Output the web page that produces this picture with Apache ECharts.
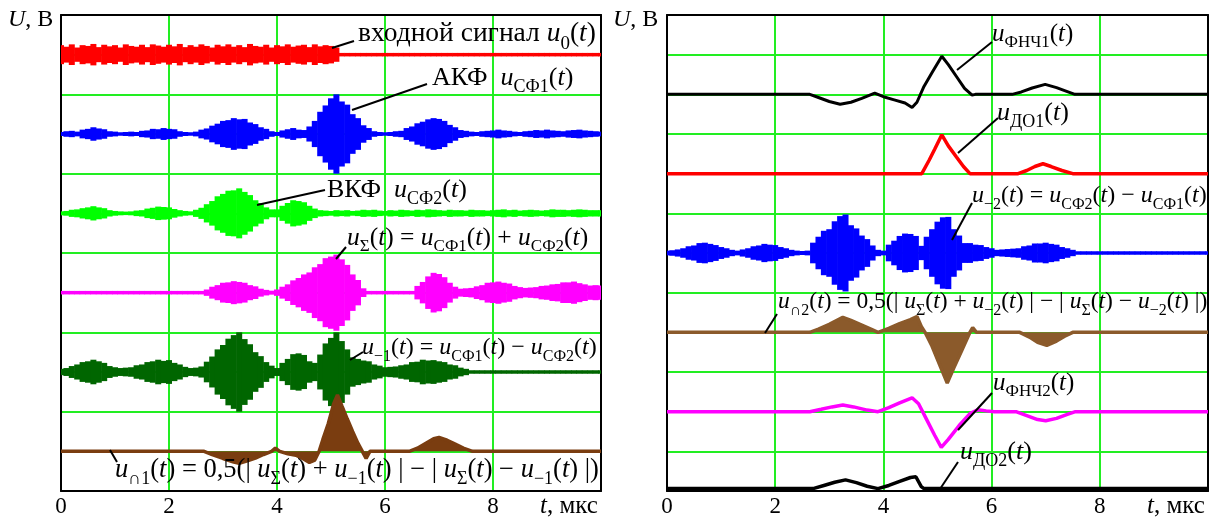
<!DOCTYPE html>
<html>
<head>
<meta charset="utf-8">
<script src="https://cdn.jsdelivr.net/npm/echarts@6.0.0/dist/echarts.min.js"></script>
<style>
  html, body { margin: 0; padding: 0; background: #fff; }
  #chart { width: 1220px; height: 521px; }
</style>
</head>
<body>
<div id="chart"></div>
<script>
// ---- time axis (µs) ----
const xTickLabels = ['0', '2', '4', '6', '8'];
const STEP = 0.1;                                   // sampling step of the burst envelopes, µs
const tSamples = Array.from({ length: 101 }, (_, i) => i / 10);

// ---- oscillating signals: envelope amplitude at each sample (divisions) ----
const inputAmp = [
  0.24,0.20,0.26,0.18,0.24,0.22,0.27,0.19,0.25,0.21,
  0.24,0.18,0.26,0.22,0.20,0.25,0.19,0.26,0.23,0.20,
  0.25,0.21,0.27,0.19,0.24,0.20,0.26,0.22,0.18,0.25,
  0.21,0.26,0.20,0.24,0.19,0.27,0.22,0.20,0.25,0.18,
  0.24,0.21,0.26,0.20,0.23,0.25,0.19,0.26,0.21,0.24,
  0.22,0.18,0,0,0,0,0,0,0,0,
  0,0,0,0,0,0,0,0,0,0,
  0,0,0,0,0,0,0,0,0,0,
  0,0,0,0,0,0,0,0,0,0,
  0,0,0,0,0,0,0,0,0,0,
  0
];
const acfAmp = [
  0.05,0.07,0.08,0.06,0.11,0.13,0.17,0.14,0.12,0.07,
  0.06,0.04,0.05,0.06,0.05,0.08,0.09,0.13,0.12,0.15,
  0.13,0.12,0.07,0.05,0.04,0.06,0.11,0.14,0.21,0.26,
  0.33,0.35,0.40,0.37,0.38,0.29,0.25,0.17,0.13,0.07,
  0.05,0.09,0.12,0.15,0.11,0.10,0.19,0.33,0.56,0.72,
  0.90,1.00,0.82,0.74,0.50,0.40,0.22,0.15,0.07,0.05,
  0.04,0.05,0.07,0.08,0.15,0.19,0.27,0.31,0.37,0.40,
  0.38,0.33,0.23,0.17,0.10,0.08,0.06,0.05,0.07,0.08,
  0.09,0.11,0.09,0.08,0.06,0.05,0.07,0.08,0.10,0.09,
  0.11,0.09,0.08,0.07,0.09,0.10,0.11,0.09,0.08,0.07,
  0.06
];
const ccfAmp = [
  0.05,0.06,0.09,0.10,0.13,0.15,0.18,0.15,0.13,0.08,
  0.06,0.05,0.04,0.05,0.07,0.08,0.12,0.14,0.17,0.16,
  0.15,0.11,0.08,0.06,0.05,0.09,0.14,0.23,0.31,0.43,
  0.49,0.57,0.58,0.63,0.54,0.46,0.33,0.26,0.15,0.10,
  0.10,0.19,0.26,0.33,0.31,0.28,0.19,0.12,0.08,0.07,
  0.06,0.08,0.07,0.08,0.06,0.07,0.09,0.08,0.09,0.07,
  0.06,0.08,0.07,0.09,0.08,0.07,0.09,0.08,0.10,0.09,
  0.08,0.07,0.09,0.08,0.08,0.07,0.09,0.08,0.08,0.07,
  0.08,0.09,0.10,0.08,0.09,0.07,0.08,0.09,0.08,0.07,
  0.08,0.10,0.09,0.09,0.08,0.09,0.10,0.09,0.08,0.08,
  0.08
];
const sumAmp = [
  0,0,0,0,0,0,0,0,0,0,
  0,0,0,0,0,0,0,0,0,0,
  0,0,0,0,0,0,0,0.08,0.15,0.19,
  0.25,0.26,0.29,0.27,0.25,0.19,0.16,0.10,0.07,0.05,
  0.08,0.15,0.21,0.31,0.37,0.46,0.51,0.64,0.72,0.87,
  0.91,0.96,0.84,0.70,0.46,0.32,0.11,0,0,0,
  0,0,0,0,0,0.04,0.17,0.27,0.41,0.50,
  0.47,0.39,0.25,0.15,0.10,0.11,0.12,0.16,0.19,0.25,
  0.26,0.28,0.25,0.23,0.17,0.14,0.12,0.13,0.14,0.17,
  0.18,0.21,0.22,0.26,0.26,0.28,0.24,0.21,0.18,0.19,
  0.18
];
const diff1Amp = [
  0.08,0.10,0.15,0.19,0.25,0.27,0.31,0.27,0.23,0.15,
  0.12,0.10,0.11,0.12,0.17,0.19,0.25,0.27,0.31,0.28,
  0.30,0.23,0.19,0.13,0.10,0.11,0.14,0.26,0.39,0.57,
  0.68,0.84,0.93,1.00,0.83,0.70,0.50,0.40,0.25,0.16,
  0.10,0.23,0.33,0.45,0.47,0.43,0.27,0.23,0.44,0.72,
  0.86,1.00,0.78,0.57,0.37,0.33,0.29,0.27,0.19,0.16,
  0.12,0.13,0.14,0.17,0.19,0.25,0.26,0.31,0.29,0.30,
  0.27,0.25,0.19,0.17,0.11,0.08,0.04,0,0,0,
  0,0,0,0,0,0,0,0,0,0,
  0,0,0,0,0,0,0,0,0,0,
  0
];
const diff2Amp = [
  0.06,0.07,0.09,0.12,0.17,0.19,0.25,0.26,0.23,0.20,
  0.15,0.12,0.08,0.06,0.09,0.12,0.17,0.19,0.23,0.21,
  0.20,0.15,0.12,0.08,0.06,0.05,0.06,0.26,0.41,0.56,
  0.60,0.80,0.93,0.97,0.70,0.62,0.44,0.35,0.19,0.08,
  0.06,0.21,0.31,0.43,0.49,0.48,0.43,0.18,0.41,0.60,
  0.79,0.90,0.91,0.60,0.44,0.25,0.25,0.21,0.20,0.15,
  0.12,0.08,0.09,0.10,0.11,0.12,0.17,0.19,0.24,0.24,
  0.26,0.23,0.21,0.15,0.12,0.08,0,0,0,0,
  0,0,0,0,0,0,0,0,0,0,
  0,0,0,0,0,0,0,0,0,0,
  0
];

// ---- slowly varying signals: [t, value] (divisions, relative to own zero) ----
const cap1Pts = [[0,0],[2.65,0],[2.8,-0.08],[3.0,-0.18],[3.2,-0.27],[3.3,-0.3],[3.45,-0.24],[3.6,-0.17],[3.75,-0.08],[3.9,0],[3.97,0.08],[4.05,0],[4.2,-0.06],[4.35,-0.1],[4.5,-0.2],[4.6,-0.28],[4.7,-0.22],[4.78,0],[4.85,0.3],[4.95,0.7],[5.05,1.2],[5.12,1.42],[5.2,1.15],[5.3,0.82],[5.4,0.5],[5.5,0.2],[5.58,0],[5.65,-0.18],[5.72,0],[6.45,0],[6.6,0.08],[6.75,0.2],[6.9,0.32],[7.0,0.35],[7.15,0.28],[7.3,0.18],[7.45,0.08],[7.62,0],[10,0]];
const lpf1Pts = [[0,0],[2.64,0],[2.8,-0.08],[3.0,-0.18],[3.2,-0.25],[3.4,-0.2],[3.6,-0.1],[3.84,0.03],[4.0,-0.06],[4.2,-0.14],[4.4,-0.22],[4.53,-0.33],[4.62,-0.2],[4.75,0.2],[4.9,0.55],[5.08,0.96],[5.2,0.75],[5.35,0.45],[5.5,0.15],[5.64,-0.02],[5.7,0],[6.38,0],[6.55,0.06],[6.75,0.16],[6.99,0.25],[7.2,0.17],[7.4,0.07],[7.54,0],[10,0]];
const det1Pts = [[0,0],[4.71,0],[4.85,0.35],[4.95,0.62],[5.08,0.98],[5.2,0.7],[5.35,0.42],[5.48,0.18],[5.6,0],[6.49,0],[6.65,0.08],[6.8,0.18],[6.95,0.25],[7.1,0.18],[7.3,0.08],[7.5,0],[10,0]];
const cap2Pts = [[0,0],[2.64,0],[2.8,0.08],[3.0,0.2],[3.25,0.38],[3.4,0.3],[3.6,0.18],[3.8,0.06],[3.9,0],[4.1,0.1],[4.3,0.22],[4.5,0.32],[4.62,0.4],[4.7,0.15],[4.77,0],[4.9,-0.35],[5.05,-0.85],[5.18,-1.28],[5.3,-0.9],[5.45,-0.45],[5.6,0],[5.65,0.12],[5.72,0],[6.52,0],[6.7,-0.12],[6.85,-0.25],[7.02,-0.33],[7.2,-0.22],[7.35,-0.1],[7.5,0],[10,0]];
const lpf2Pts = [[0,0],[2.64,0],[2.85,0.06],[3.05,0.12],[3.25,0.17],[3.45,0.12],[3.7,0.04],[3.9,0],[4.1,0.1],[4.3,0.22],[4.53,0.35],[4.65,0.2],[4.8,-0.2],[4.95,-0.6],[5.07,-0.9],[5.2,-0.7],[5.4,-0.35],[5.6,-0.05],[5.75,0.05],[5.9,0.02],[6.05,0],[6.45,0],[6.65,-0.1],[6.85,-0.2],[7.0,-0.23],[7.2,-0.17],[7.4,-0.07],[7.55,0],[10,0]];
const det2Pts = [[0,0],[2.7,0],[2.9,0.08],[3.1,0.16],[3.3,0.22],[3.5,0.15],[3.7,0.06],[3.9,0],[4.1,0.08],[4.3,0.18],[4.5,0.28],[4.6,0.3],[4.7,0.05],[4.75,0],[10,0]];

// ---- styling ----
const SERIF = '"Liberation Serif", "Times New Roman", "DejaVu Serif", serif';
const GRID_GREEN = '#22ee22';

function axesFor(gridIndex) {
  const x = [
    {
      gridIndex, type: 'value', min: 0, max: 10, interval: 2, position: 'bottom',
      axisLine: { show: true, onZero: false, lineStyle: { color: '#000', width: 2 } },
      axisTick: { show: false },
      splitLine: { show: true, showMinLine: false, showMaxLine: false, lineStyle: { color: GRID_GREEN, width: 2 } },
      axisLabel: {
        margin: 4, color: '#000', fontFamily: SERIF, fontSize: 23,
        formatter: (v) => (xTickLabels.indexOf(String(v)) >= 0 ? String(v) : '')
      }
    },
    {
      gridIndex, type: 'value', min: 0, max: 10, position: 'top',
      axisLine: { show: true, onZero: false, lineStyle: { color: '#000', width: 2 } },
      axisTick: { show: false }, axisLabel: { show: false }, splitLine: { show: false }
    }
  ];
  const y = [
    {
      gridIndex, type: 'value', min: 0, max: 12, interval: 1, position: 'left',
      axisLine: { show: true, onZero: false, lineStyle: { color: '#000', width: 2 } },
      axisTick: { show: false }, axisLabel: { show: false },
      splitLine: { show: true, showMinLine: false, showMaxLine: false, lineStyle: { color: GRID_GREEN, width: 2 } }
    },
    {
      gridIndex, type: 'value', min: 0, max: 12, position: 'right',
      axisLine: { show: true, onZero: false, lineStyle: { color: '#000', width: 2 } },
      axisTick: { show: false }, axisLabel: { show: false }, splitLine: { show: false }
    }
  ];
  return { x, y };
}

// oscillating burst drawn as a ragged band: one column per sample
function burstSeries(panel, amps, base, color) {
  return {
    type: 'custom', xAxisIndex: panel * 2, yAxisIndex: panel * 2,
    clip: true, silent: true, animation: false, z: 3,
    data: tSamples.map((t, i) => [t, amps[i]]),
    renderItem(params, api) {
      const t = api.value(0), a = api.value(1);
      const p0 = api.coord([t - STEP / 2, base + a]);
      const p1 = api.coord([t + STEP / 2, base - a]);
      let y = p0[1], h = p1[1] - p0[1];
      if (h < 3.5) { y = (p0[1] + p1[1]) / 2 - 1.75; h = 3.5; }
      return {
        type: 'rect',
        shape: { x: p0[0] - 0.3, y, width: p1[0] - p0[0] + 0.6, height: h },
        style: { fill: color }
      };
    }
  };
}

function traceSeries(panel, pts, base, color, width, fill) {
  const s = {
    type: 'line', xAxisIndex: panel * 2, yAxisIndex: panel * 2,
    data: pts.map(([t, v]) => [t, base + v]),
    showSymbol: false, symbol: 'none', silent: true, animation: false, z: 3,
    lineStyle: { color, width }
  };
  if (fill) s.areaStyle = { color: fill, opacity: 1, origin: base };
  return s;
}

// text with italic variables and lowered subscripts
function label(x, y, text, size) {
  const fs = size || 25;
  const sub = Math.round(fs * 0.68);
  const rich = {
    i: { fontStyle: 'italic', fontSize: fs, fontFamily: SERIF, fill: '#000' },
    s: { fontSize: sub, fontFamily: SERIF, fill: '#000', padding: [Math.round(fs * 0.72), 0, 0, 0] }
  };
  return {
    type: 'text', x, y, z: 100, silent: true,
    style: { text, fontFamily: SERIF, fontSize: fs, fill: '#000', align: 'left', verticalAlign: 'middle', rich }
  };
}
function leader(x1, y1, x2, y2) {
  return { type: 'line', z: 100, silent: true, shape: { x1, y1, x2, y2 }, style: { stroke: '#000', lineWidth: 2 } };
}

const a0 = axesFor(0), a1 = axesFor(1);

const option = {
  backgroundColor: '#fff',
  animation: false,
  grid: [
    { left: 61, top: 15, width: 540, height: 476 },
    { left: 667, top: 15, width: 541, height: 476 }
  ],
  xAxis: [...a0.x, ...a1.x],
  yAxis: [...a0.y, ...a1.y],
  series: [
    // left panel
    burstSeries(0, inputAmp, 11, '#ff0000'),
    burstSeries(0, acfAmp, 9, '#0000ff'),
    burstSeries(0, ccfAmp, 7, '#00ff00'),
    burstSeries(0, sumAmp, 5, '#ff00ff'),
    burstSeries(0, diff1Amp, 3, '#006600'),
    traceSeries(0, cap1Pts, 1, '#7a3d10', 3.5, '#7a3d10'),
    // right panel
    traceSeries(1, lpf1Pts, 10, '#000000', 3),
    traceSeries(1, det1Pts, 8, '#ff0000', 3.5),
    burstSeries(1, diff2Amp, 6, '#0000ff'),
    traceSeries(1, cap2Pts, 4, '#8b5a2b', 3.5, '#8b5a2b'),
    traceSeries(1, lpf2Pts, 2, '#ff00ff', 3.5),
    traceSeries(1, det2Pts, 0.06, '#000000', 3.5)
  ],
  graphic: [
    label(8, 20, '{i|U}, В', 24),
    label(613, 20, '{i|U}, В', 24),
    label(540, 506, '{i|t}, мкс', 25),
    label(1147, 506, '{i|t}, мкс', 25),

    label(358, 34, 'входной сигнал {i|u}{s|0}({i|t})', 27.5),
    leader(332, 48, 354, 41),
    label(432, 78, 'АКФ  {i|u}{s|СФ1}({i|t})', 26),
    leader(352, 110, 427, 84),
    label(327, 190, 'ВКФ  {i|u}{s|СФ2}({i|t})', 26),
    leader(257, 205, 325, 190),
    label(347, 238, '{i|u}{s|Σ}({i|t}) = {i|u}{s|СФ1}({i|t}) + {i|u}{s|СФ2}({i|t})', 25.5),
    leader(336, 259, 346, 247),
    label(362, 348, '{i|u}{s|−1}({i|t}) = {i|u}{s|СФ1}({i|t}) − {i|u}{s|СФ2}({i|t})', 24),
    leader(350, 360, 363, 352),
    label(115, 470, '{i|u}{s|∩1}({i|t}) = 0,5(| {i|u}{s|Σ}({i|t}) + {i|u}{s|−1}({i|t}) | − | {i|u}{s|Σ}({i|t}) − {i|u}{s|−1}({i|t}) |)', 26.5),
    leader(110, 450, 117, 462),

    label(992, 34, '{i|u}{s|ФНЧ1}({i|t})', 25),
    leader(957, 70, 992, 42),
    label(997, 113, '{i|u}{s|ДО1}({i|t})', 26),
    leader(958, 153, 998, 118),
    label(972, 196, '{i|u}{s|−2}({i|t}) = {i|u}{s|СФ2}({i|t}) − {i|u}{s|СФ1}({i|t})', 24),
    leader(952, 240, 972, 203),
    label(778, 302, '{i|u}{s|∩2}({i|t}) = 0,5(| {i|u}{s|Σ}({i|t}) + {i|u}{s|−2}({i|t}) | − | {i|u}{s|Σ}({i|t}) − {i|u}{s|−2}({i|t}) |)', 23.5),
    leader(765, 333, 777, 314),
    label(993, 383, '{i|u}{s|ФНЧ2}({i|t})', 25),
    leader(958, 430, 992, 393),
    label(960, 452, '{i|u}{s|ДО2}({i|t})', 26),
    leader(940, 489, 958, 462)
  ]
};

const chart = echarts.init(document.getElementById('chart'), null, { renderer: 'canvas' });
chart.setOption(option);
</script>
</body>
</html>
